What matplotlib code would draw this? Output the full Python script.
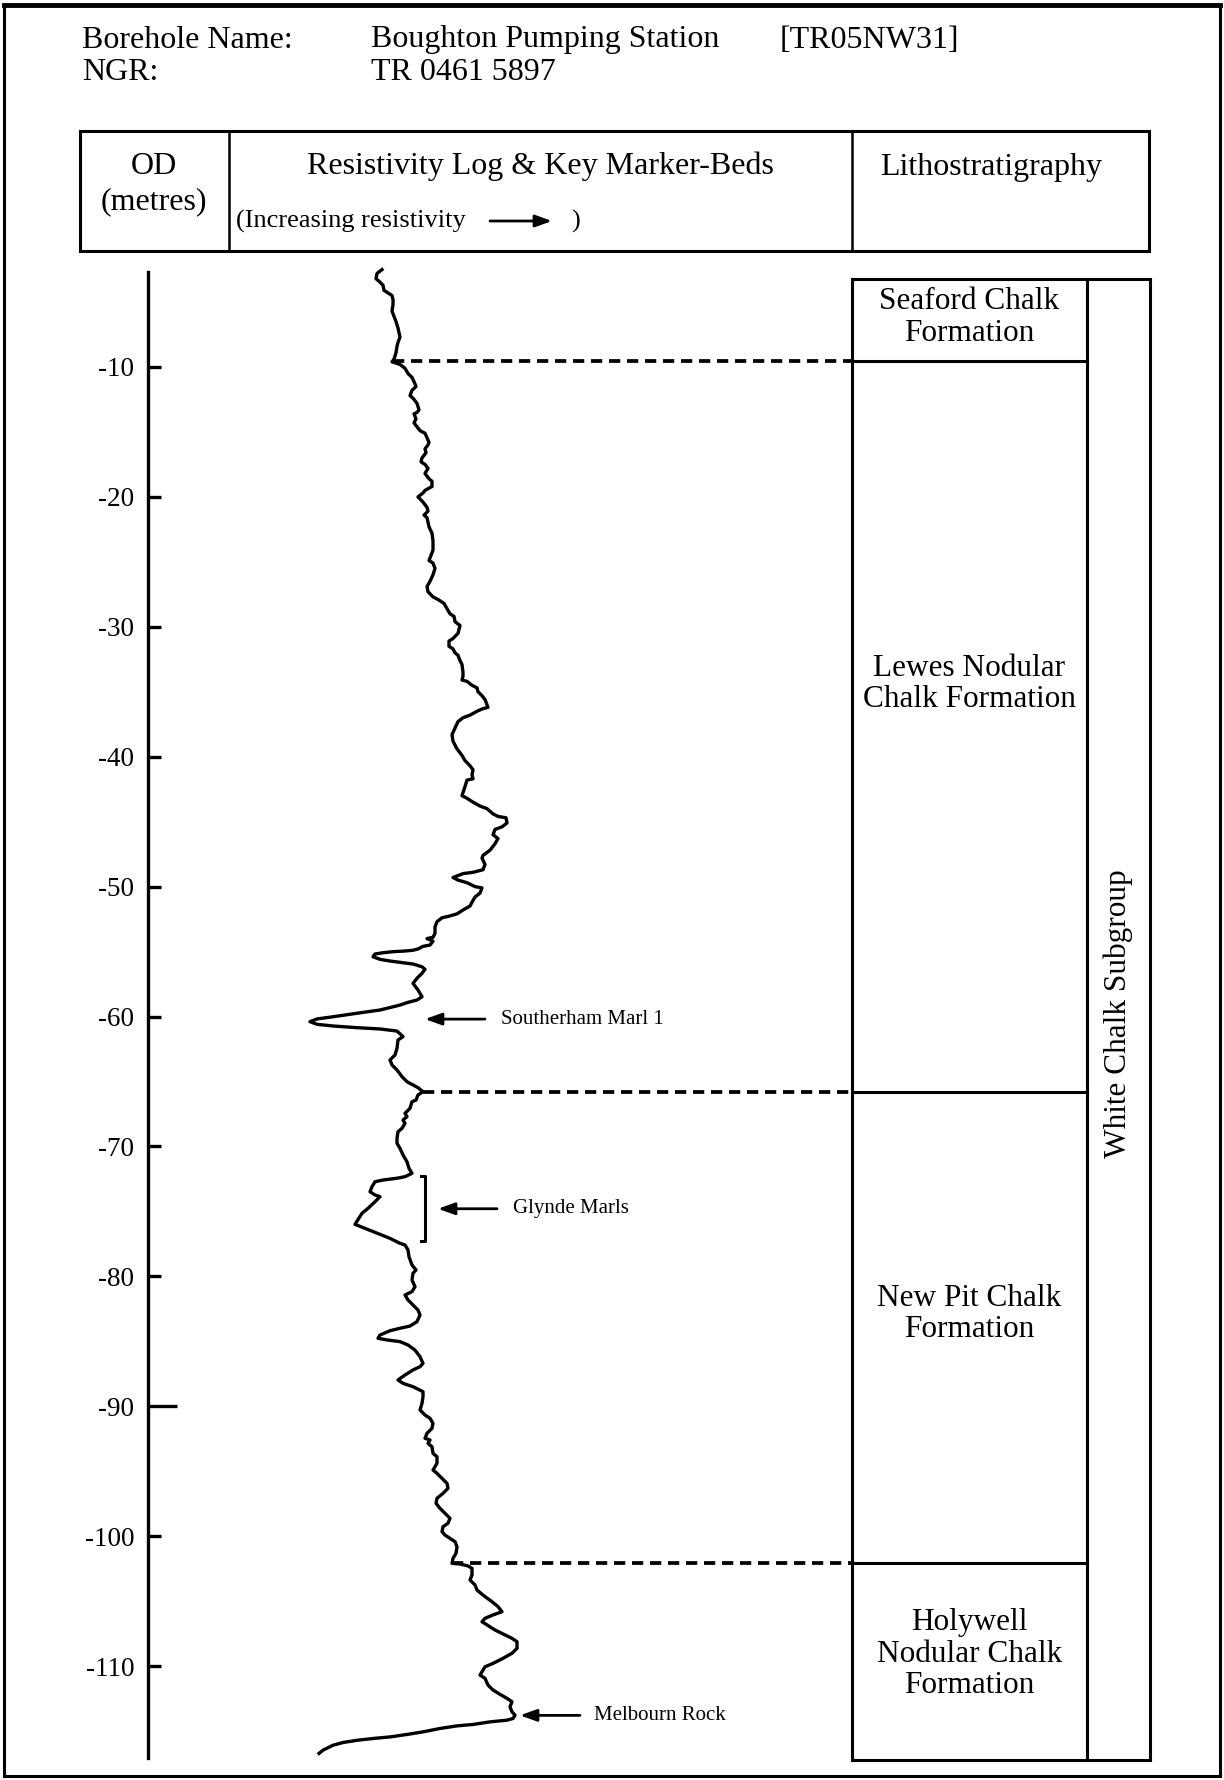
"""
Borehole log sheet: resistivity log, key marker-beds and lithostratigraphy
for Boughton Pumping Station.
"""
import matplotlib
matplotlib.use("Agg")
import matplotlib.pyplot as plt
import numpy as np
from matplotlib.patches import Rectangle

plt.rcParams['font.family'] = ['Liberation Serif', 'DejaVu Serif']

# Borehole details
borehole_name = "Boughton Pumping Station"
borehole_ref = "[TR05NW31]"
borehole_ngr = "TR 0461 5897"

# Depth axis ticks (OD, metres)
od_ticks = [-10, -20, -30, -40, -50, -60, -70, -80, -90, -100, -110]

# Resistivity log: OD (m) and relative resistivity (arbitrary units)
log_od = [
    -2.5, -2.8, -3.2, -3.4, -3.7, -4.1, -4.3, -4.5, -4.8, -5.2,
    -5.7, -6.1, -6.5, -7.0, -7.7, -8.1, -8.4, -8.9, -9.4, -9.6,
    -9.8, -10.1, -10.5, -10.8, -11.3, -11.5, -11.8, -12.2, -12.4, -12.8,
    -13.3, -13.5, -13.6, -14.0, -14.3, -14.6, -14.9, -15.1, -15.8, -16.0,
    -16.3, -16.6, -17.0, -17.3, -17.5, -17.8, -18.2, -18.6, -18.8, -19.2,
    -19.5, -19.7, -20.0, -20.4, -20.8, -21.1,
    -21.4, -21.6, -22.3, -22.8, -23.4, -24.1, -24.5, -24.9, -25.1, -25.5,
    -26.0, -26.5, -26.9, -27.3, -27.7, -27.9, -28.2, -28.6, -29.0, -29.2,
    -29.6, -29.9, -30.5, -30.9, -31.1, -31.5, -31.7, -32.0, -32.2, -32.6,
    -32.9, -33.5, -33.8, -34.1, -34.2, -34.5, -34.7, -35.0, -35.3, -35.6,
    -36.2, -36.3, -36.5, -36.8, -37.0, -37.3, -37.8, -38.3, -38.8, -39.4,
    -39.9, -40.3,
    -40.7, -41.0, -41.4, -41.7, -41.8, -42.3, -43.0, -43.2, -43.5, -43.8,
    -44.0, -44.4, -44.6, -44.7, -45.1, -45.4, -45.6, -46.0, -46.3, -46.7,
    -47.2, -47.6, -47.8, -48.3, -48.7, -48.9, -49.0, -49.3, -49.5, -49.7,
    -50.0, -50.1, -50.5, -50.8, -51.2, -51.5, -51.8, -52.1, -52.3, -52.4,
    -52.7, -53.1, -53.6, -53.9, -54.0, -54.2, -54.5, -54.6, -54.8, -54.9,
    -54.96, -55.01, -55.09, -55.19, -55.40, -55.60, -55.73, -55.86, -55.96, -56.17,
    -56.37, -56.67, -57.06, -57.45, -57.96, -58.48, -58.73, -58.91, -59.12, -59.50,
    -59.75, -60.02, -60.19, -60.40, -60.60, -60.73, -60.86, -60.96, -61.12, -61.55,
    -61.81, -62.45, -62.96, -63.35, -63.73, -64.12, -64.63, -65.02, -65.27, -65.48,
    -65.79, -66.04, -66.43, -66.56, -67.07, -67.45, -67.71, -67.97, -68.22, -68.61,
    -68.87, -69.38, -69.76, -70.15, -70.66, -71.18, -71.69, -72.07, -72.33, -72.45,
    -72.59, -72.72, -73.10, -73.49, -73.74, -73.87, -74.26, -74.77, -75.15, -76.00,
    -76.31, -76.69, -77.08, -77.46,
    -77.59, -77.97, -78.49, -79.13, -79.51, -79.77, -80.28, -80.80, -81.18, -81.44,
    -81.82, -82.21, -82.60, -82.98, -83.49, -83.83, -84.00, -84.19, -84.52, -84.77,
    -84.90, -85.03, -85.29, -85.68, -86.19, -86.70, -86.96, -87.21, -87.60, -87.98,
    -88.24, -88.50, -88.88, -89.27, -89.78, -90.29, -90.68, -90.93, -91.32, -91.70,
    -92.09, -92.47, -92.60, -92.86, -93.12, -93.63, -93.89, -94.40, -94.91, -95.17,
    -95.55, -95.94, -96.32,
    -96.71, -97.09, -97.47, -97.86, -98.24, -98.63, -99.01, -99.28, -99.66, -99.92,
    -100.17, -100.43, -100.82, -101.33, -101.71, -102.10, -102.15, -102.30, -102.48, -102.99,
    -103.38, -103.76, -104.15, -104.54, -105.05, -105.43, -105.82, -106.07, -106.33, -106.59,
    -106.84, -107.23, -107.61, -107.87, -108.13, -108.64, -109.02, -109.41, -109.80, -110.06,
    -110.44, -110.70, -110.95, -111.47, -111.85, -112.18, -112.49, -112.75, -113.14, -113.53,
    -113.78, -114.04, -114.17, -114.30, -114.50, -114.61, -114.81, -115.07, -115.27, -115.46,
    -115.58, -115.72, -115.89, -116.10, -116.48, -116.73,
]
log_res = [
    82, 77, 76, 79, 83, 84, 88, 92, 93, 93,
    92, 94, 96, 98, 100, 98, 97, 96, 94, 92,
    100, 105, 108, 112, 115, 116, 112, 110, 113, 117,
    119, 117, 114, 116, 114, 117, 120, 125, 129, 128,
    125, 126, 122, 121, 125, 128, 125, 129, 132, 132,
    125, 123, 118, 123, 127, 128,
    124, 127, 129, 132, 133, 133, 131, 129, 133, 135,
    133, 130, 127, 128, 133, 138, 144, 147, 150, 154,
    155, 160, 158, 153, 149, 149, 153, 155, 158, 160,
    162, 163, 163, 162, 167, 172, 177, 178, 182, 185,
    188, 183, 177, 170, 163, 158, 155, 152, 153, 157,
    162, 165,
    170, 173, 172, 173, 167, 165, 162, 167, 173, 180,
    187, 193, 198, 206, 207, 202, 195, 193, 198, 195,
    190, 183, 182, 185, 183, 173, 163, 153, 158, 167,
    175, 182, 180, 175, 172, 170, 163, 157, 148, 142,
    137, 135, 135, 133, 127, 133, 130, 123, 118, 113,
    105, 93, 83, 75, 73, 80, 90, 103, 113, 122,
    125, 122, 117, 113, 118, 122, 117, 108, 100, 80,
    57, 33, 17, 10, 17, 33, 57, 80, 97, 103,
    98, 97, 95, 90, 92, 97, 102, 107, 113, 118,
    123, 118, 116, 112, 110, 105, 107, 103, 105, 102,
    98, 97, 97, 100, 103, 107, 109, 112, 105, 97,
    83, 75, 72, 70, 75, 80, 75, 68, 62, 55,
    65, 77, 90, 100,
    105, 108, 109, 112, 116, 113, 112, 115, 112, 105,
    108, 113, 118, 120, 117, 110, 100, 90, 80, 78,
    87, 100, 108, 115, 120, 123, 120, 113, 105, 98,
    103, 113, 123, 123, 122, 120, 125, 130, 133, 132,
    127, 125, 130, 128, 132, 133, 137, 137, 133, 137,
    142, 147, 148,
    143, 137, 136, 140, 145, 150, 148, 143, 142, 145,
    150, 155, 157, 156, 153, 152, 160, 168, 172, 172,
    170, 175, 177, 183, 192, 198, 202, 193, 185, 182,
    187, 195, 205, 212, 217, 217, 212, 203, 193, 185,
    182, 180, 185, 188, 193, 200, 207, 212, 210, 212,
    215, 213, 207, 190, 173, 157, 140, 123, 107, 90,
    73, 57, 43, 33, 23, 19,
]

# Lithostratigraphy
formation_names = ["Seaford Chalk\nFormation",
                   "Lewes Nodular\nChalk Formation",
                   "New Pit Chalk\nFormation",
                   "Holywell\nNodular Chalk\nFormation"]
formation_tops = [-3.2, -9.5, -65.8, -102.1]
formation_bases = [-9.5, -65.8, -102.1, -117.2]
formation_label_od = [-6.2, -34.4, -82.9, -109.1]
subgroup_name = "White Chalk Subgroup"
subgroup_label_od = -59.8

# Key marker-beds
marker_names = ["Southerham Marl 1", "Glynde Marls", "Melbourn Rock"]
marker_od = [-60.2, -74.8, -113.8]
glynde_top, glynde_base = -72.3, -77.3

# ---- layout (figure pixels) ----
W, H = 1224, 1780
PX_PER_M = 12.99
Y0 = 237.1  # pixel row of OD 0


def px_at(od):
    return Y0 - PX_PER_M * od


def fig_rect(x0, y0, x1, y1):
    return [x0 / W, 1 - y1 / H, (x1 - x0) / W, (y1 - y0) / H]


fig = plt.figure(figsize=(W / 100, H / 100), dpi=100)

# Frame axes in pixel units for the sheet furniture
fr = fig.add_axes([0, 0, 1, 1])
fr.set_xlim(0, W)
fr.set_ylim(H, 0)
fr.axis('off')

fr.add_patch(Rectangle((4, 5), 1216, 1771, fill=False, lw=2.2, ec='black'))
fr.plot([4, 1220], [5, 5], color='black', lw=3.5)

big = 23
fr.text(82, 40, "Borehole Name:", fontsize=big, va='center')
fr.text(82, 73, "NGR:", fontsize=big, va='center')
fr.text(371, 40, borehole_name, fontsize=big, va='center')
fr.text(780, 40, borehole_ref, fontsize=big, va='center')
fr.text(371, 73, borehole_ngr, fontsize=big, va='center')

# Header table
fr.add_patch(Rectangle((80, 131), 1069, 120, fill=False, lw=2.2, ec='black'))
fr.plot([229, 229], [131, 251], color='black', lw=1.8)
fr.plot([852, 852], [131, 251], color='black', lw=1.8)
fr.text(154, 166, "OD", fontsize=big, ha='center', va='center')
fr.text(154, 202, "(metres)", fontsize=big, ha='center', va='center')
fr.text(540, 166, "Resistivity Log & Key Marker-Beds", fontsize=big,
        ha='center', va='center')
fr.text(236, 221, "(Increasing resistivity", fontsize=19, va='center')
fr.annotate('', xy=(552, 221), xytext=(490, 221),
            arrowprops=dict(arrowstyle='-|>,head_length=0.5,head_width=0.18',
                            lw=2, color='black', mutation_scale=20,
                            shrinkA=0, shrinkB=0))
fr.text(571, 221, ")", fontsize=19, va='center')
fr.text(991, 168, "Lithostratigraphy", fontsize=big, ha='center', va='center')

# ---- resistivity log with OD axis ----
axis_top, axis_base = -2.7, -117.1
ax = fig.add_axes(fig_rect(148, px_at(axis_top), 852, px_at(axis_base)))
ax.set_ylim(axis_base, axis_top)
ax.set_xlim(-152, 552)
ax.patch.set_visible(False)

ax.plot(log_res, log_od, color='black', lw=2.4, clip_on=False,
        solid_joinstyle='round')

for s in ['top', 'right', 'bottom']:
    ax.spines[s].set_visible(False)
ax.spines['left'].set_linewidth(2.4)
ax.set_xticks([])
ax.set_yticks(od_ticks)
ax.set_yticklabels([str(t) for t in od_ticks])
ax.tick_params(axis='y', direction='in', length=9.5, width=2.4, pad=10,
               labelsize=19.5)
# longer tick at -90 m
ax.yaxis.get_major_ticks()[od_ticks.index(-90)].tick1line.set_markersize(21)

# Formation boundaries carried across the log as dashed lines
od_up = -np.array(log_od)
for b in formation_bases[:-1]:
    x_start = np.interp(-b, od_up, log_res)
    ax.plot([x_start, ax.get_xlim()[1]], [b, b], color='black', lw=2.7,
            dashes=(3.0, 1.8))

# Marker-bed arrows and labels
arrow_kw = dict(arrowstyle='-|>,head_length=0.5,head_width=0.18', lw=2.0,
                color='black', mutation_scale=20, shrinkA=0, shrinkB=0)
label_fs = 15

ax.annotate('', xy=(125, marker_od[0]), xytext=(185, marker_od[0]),
            arrowprops=arrow_kw)
ax.text(201, marker_od[0], marker_names[0], fontsize=label_fs, va='center')

ax.plot([121, 125, 125, 121], [glynde_top, glynde_top, glynde_base, glynde_base],
        color='black', lw=2.2)
ax.annotate('', xy=(138, marker_od[1]), xytext=(197, marker_od[1]),
            arrowprops=arrow_kw)
ax.text(213, marker_od[1], marker_names[1], fontsize=label_fs, va='center')

ax.annotate('', xy=(220, marker_od[2]), xytext=(280, marker_od[2]),
            arrowprops=arrow_kw)
ax.text(294, marker_od[2], marker_names[2], fontsize=label_fs, va='center')

# ---- lithostratigraphy column ----
lit_top, lit_base = formation_tops[0], formation_bases[-1]
lax = fig.add_axes(fig_rect(852, px_at(lit_top), 1150, px_at(lit_base)))
lax.set_ylim(lit_base, lit_top)
lax.set_xlim(0, 1)
lax.set_xticks([])
lax.set_yticks([])
for s in lax.spines.values():
    s.set_linewidth(2.2)

split = 0.789
lax.axvline(split, color='black', lw=2.2)
for b in formation_bases[:-1]:
    lax.plot([0, split], [b, b], color='black', lw=2.2)

for name, od in zip(formation_names, formation_label_od):
    lax.text(split / 2, od, name, fontsize=22.5, ha='center', va='center',
             linespacing=1.12)

lax.text((split + 1) / 2, subgroup_label_od, subgroup_name, fontsize=22.5,
         rotation=90, ha='center', va='center')

plt.savefig("out.png", dpi=100)
plt.close()
